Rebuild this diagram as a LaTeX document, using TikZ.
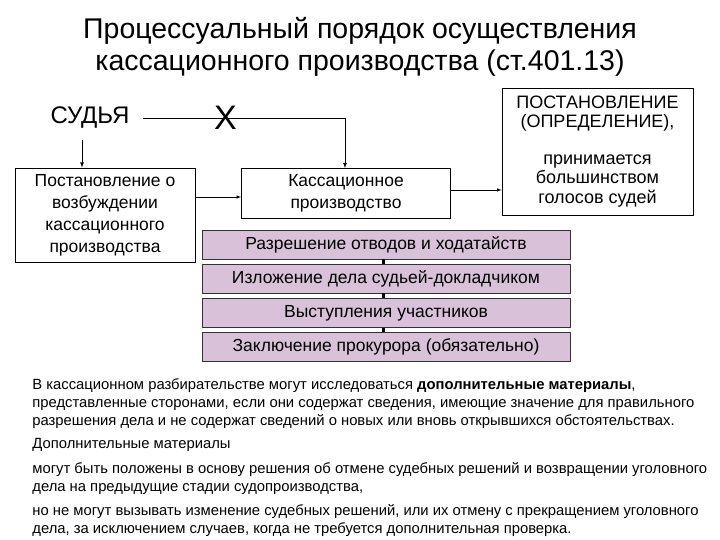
\documentclass[tikz,border=0pt]{standalone}
\usepackage{fontspec}
\setmainfont{Liberation Sans}
\usepackage{tikz}

\tikzset{
  plainbox/.style={draw, thick, fill=white, align=center, inner sep=2pt, font=\fontsize{17.5}{22}\selectfont},
  stagebox/.style={draw=black!80, thick, fill=mauve, minimum width=368pt, minimum height=29pt, inner sep=0pt, font=\fontsize{17.5}{20}\selectfont},
  notetext/.style={anchor=base west, align=left, inner sep=0pt, font=\fontsize{14.8}{18}\selectfont}
}
\definecolor{mauve}{RGB}{217,194,217}

\begin{document}
\begin{tikzpicture}[x=1pt, y=-1pt, thick]
\useasboundingbox[fill=white] (0,0) rectangle (720,540);
%title
\node[align=center, font=\fontsize{28.5}{32.5}\selectfont] (title) at (360,47)
  {Процессуальный порядок осуществления\\кассационного производства (ст.401.13)};
%upper row
\node[font=\fontsize{24}{24}\selectfont] (judge) at (90,118) {СУДЬЯ};
\node[plainbox, minimum width=180pt, minimum height=94pt] (start) at (105,215)
  {Постановление о\\возбуждении\\кассационного\\производства};
\node[plainbox, minimum width=209pt, minimum height=50pt] (cass) at (346,193.5)
  {Кассационное\\производство};
\node[plainbox, minimum width=191pt, minimum height=127pt, font=\fontsize{18}{19.5}\selectfont] (final) at (597.5,151.5)
  {ПОСТАНОВЛЕНИЕ\\(ОПРЕДЕЛЕНИЕ),\\[17pt]принимается\\большинством\\голосов судей};
%arrows
\coordinate (jr) at (143,118);
\coordinate (jc) at (345,118);
\coordinate (jd) at (82,140);
\draw (jr) -- (jc);
\draw[-latex] (jc) -- (jc |- cass.north);
\node[font=\fontsize{34}{34}\selectfont] (cross) at (225.5,117.5) {X};
\draw[-latex] (jd) -- (jd |- start.north);
\draw[-latex, semithick] (start.east |- 0,197) -- (cass.west |- 0,197);
\draw[-latex, semithick] (cass.east |- 0,190) -- (final.west |- 0,190);
%stages
\node[stagebox] (s1) at (386,244.5) {Разрешение отводов и ходатайств};
\node[stagebox] (s2) at (386,278.5) {Изложение дела судьей-докладчиком};
\node[stagebox] (s3) at (386,313) {Выступления участников};
\node[stagebox] (s4) at (386,347) {Заключение прокурора (обязательно)};
\foreach \a/\b in {s1/s2, s2/s3, s3/s4}
  \draw[line width=3pt] (\a.south -| 383,0) -- (\b.north -| 383,0);
%notes (anchored at the baseline of the last line)
\node[notetext] (n1) at (32,425)
  {В кассационном разбирательстве могут исследоваться \textbf{дополнительные материалы},\\
   представленные сторонами, если они содержат сведения, имеющие значение для правильного\\
   разрешения дела и не содержат сведений о новых или вновь открывшихся обстоятельствах.};
\node[notetext] (n2) at (32,448) {Дополнительные материалы};
\node[notetext] (n3) at (32,491)
  {могут быть положены в основу решения об отмене судебных решений и возвращении уголовного\\
   дела на предыдущие стадии судопроизводства,};
\node[notetext] (n4) at (32,533)
  {но не могут вызывать изменение судебных решений, или их отмену с прекращением уголовного\\
   дела, за исключением случаев, когда не требуется дополнительная проверка.};
\end{tikzpicture}
\end{document}
